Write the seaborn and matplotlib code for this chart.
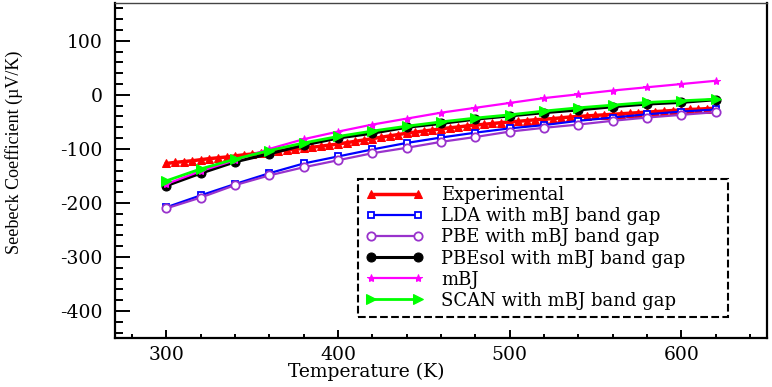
import matplotlib
matplotlib.use('Agg')
import matplotlib.pyplot as plt
import seaborn as sns
import numpy as np
from matplotlib.ticker import MultipleLocator

# experimental data (dense)
t_exp = [300, 305, 310, 315, 320, 325, 330, 335, 340, 345, 350, 355, 360, 365, 370, 375,
         380, 385, 390, 395, 400, 405, 410, 415, 420, 425, 430, 435, 440, 445, 450, 455,
         460, 465, 470, 475, 480, 485, 490, 495, 500, 505, 510, 515, 520, 525, 530, 535,
         540, 545, 550, 555, 560, 565, 570, 575, 580, 585, 590, 595, 600, 605, 610, 615, 620]
s_exp = [-127, -125, -123.5, -122, -120, -118, -116.5, -115, -113, -111, -109.5, -108, -106, -104, -102, -100.5,
         -99, -97, -95, -93, -91, -88.5, -86, -83.5, -81, -78.5, -76, -73.5, -71, -69, -67, -65,
         -63, -61, -59.5, -57.5, -56, -54.5, -53, -51.5, -50, -49, -47.5, -46, -45, -44, -42.5, -41,
         -40, -39, -38, -37, -36, -35, -34, -33, -32, -31, -30, -29, -28, -27, -26.5, -25.5, -25]

# calculated
t_calc = [300, 320, 340, 360, 380, 400, 420, 440, 460, 480, 500, 520, 540, 560, 580, 600, 620]
s_lda = [-208, -186, -165, -145, -127, -114, -101, -89, -79, -70, -62, -56, -48, -42, -36, -31, -27]
s_pbe = [-210, -190, -167, -149, -134, -121, -108, -98, -87, -78, -68, -61, -55, -48, -42, -37, -32]
s_pbesol = [-168, -145, -124, -109, -93, -80, -71, -60, -53, -45, -39, -33, -28, -22, -17, -14, -9]
s_mbj = [-165, -141, -121, -100, -82, -68, -55, -44, -33, -24, -15, -6, 1, 8, 14, 20, 26]
s_scan = [-159, -137, -119, -103, -89, -77, -67, -58, -50, -43, -37, -30, -24, -19, -14, -11, -8]

plt.rcParams['font.family'] = 'DejaVu Serif'
plt.rcParams['axes.unicode_minus'] = False

fig = plt.figure(figsize=(7.72, 3.87), dpi=100)
ax = fig.add_axes([115/772, 1-338/387, 652/772, 335/387])

sns.lineplot(x=t_exp, y=s_exp, ax=ax, color='#ff0000', marker='^', markersize=6,
             markeredgecolor='#ff0000', linewidth=2.5, label='Experimental')
sns.lineplot(x=t_calc, y=s_lda, ax=ax, color='#0000ff', marker='s', markersize=5,
             markerfacecolor='white', markeredgecolor='#0000ff', markeredgewidth=1.3,
             linewidth=1.6, label='LDA with mBJ band gap')
sns.lineplot(x=t_calc, y=s_pbe, ax=ax, color='#9932cc', marker='o', markersize=6,
             markerfacecolor='white', markeredgecolor='#9932cc', markeredgewidth=1.3,
             linewidth=1.6, label='PBE with mBJ band gap')
sns.lineplot(x=t_calc, y=s_pbesol, ax=ax, color='black', marker='o', markersize=6.5,
             markeredgecolor='black', linewidth=2.2, label='PBEsol with mBJ band gap')
sns.lineplot(x=t_calc, y=s_mbj, ax=ax, color='#ff00ff', marker='*', markersize=6,
             markeredgecolor='#ff00ff', linewidth=1.6, label='mBJ')
sns.lineplot(x=t_calc, y=s_scan, ax=ax, color='#00ff00', marker='>', markersize=6.5,
             markeredgecolor='#00ff00', linewidth=2, label='SCAN with mBJ band gap')

ax.set_xlim(270, 650)
ax.set_ylim(-450, 170)
ax.xaxis.set_major_locator(MultipleLocator(100))
ax.xaxis.set_minor_locator(MultipleLocator(20))
ax.yaxis.set_major_locator(MultipleLocator(100))
ax.yaxis.set_minor_locator(MultipleLocator(20))

ax.tick_params(axis='both', which='both', direction='in', top=False, right=False)
ax.tick_params(axis='y', which='major', length=10.5, width=1.4, pad=9, labelsize=13.5)
ax.tick_params(axis='y', which='minor', length=5.5, width=1.4)
ax.tick_params(axis='x', which='major', length=6, width=1.4, pad=6, labelsize=13.5)
ax.tick_params(axis='x', which='minor', length=3, width=1.4)

for side in ['left', 'bottom', 'right']:
    ax.spines[side].set_linewidth(1.6)
    ax.spines[side].set_color('black')
ax.spines['top'].set_linewidth(1.0)
ax.spines['top'].set_color('#444444')

ax.set_xlabel('Temperature (K)', fontsize=13.5)
ax.xaxis.set_label_coords(0.385, -0.075)
ax.set_ylabel('Seebeck Coefficient (µV/K)', fontsize=13, family='Liberation Serif')
ax.yaxis.set_label_coords(-0.141, 0.555)

leg = ax.legend(loc='lower left', bbox_to_anchor=(0.373, 0.063, 0.567, 0.409), mode='expand',
                fontsize=13, labelspacing=0.17, handlelength=3.2, handletextpad=1.0,
                borderpad=0.4, numpoints=2, fancybox=False, framealpha=1, borderaxespad=0)
frame = leg.get_frame()
frame.set_edgecolor('black')
frame.set_linestyle('--')
frame.set_linewidth(1.5)

fig.savefig('out.png', dpi=100)
